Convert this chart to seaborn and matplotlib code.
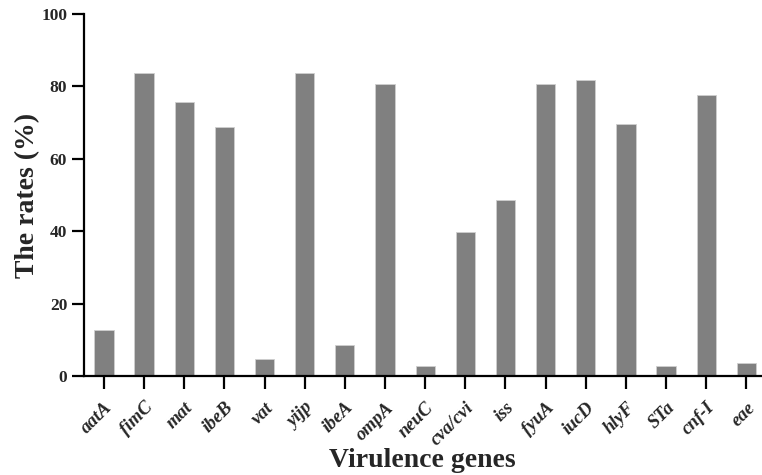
import matplotlib
matplotlib.use("Agg")
import matplotlib.pyplot as plt
import matplotlib.transforms as mtransforms
import pandas as pd
import seaborn as sns

genes = ["aatA", "fimC", "mat", "ibeB", "vat", "yijp", "ibeA", "ompA", "neuC",
         "cva/cvi", "iss", "fyuA", "iucD", "hlyF", "STa", "cnf-I", "eae"]
rates = [12.7, 83.7, 75.7, 68.7, 4.7, 83.7, 8.7, 80.7, 2.7,
         39.7, 48.7, 80.7, 81.7, 69.7, 2.7, 77.7, 3.7]
yticks = [0, 20, 40, 60, 80, 100]

sns.set_style("ticks")
plt.rcParams["font.family"] = ["Liberation Serif", "DejaVu Serif"]
plt.rcParams["font.weight"] = "bold"

df = pd.DataFrame({"gene": genes, "rate": rates})

fig = plt.figure(figsize=(7.62, 4.75), dpi=100)
ax = fig.add_axes([0.110, 0.2084, 0.889, 0.762])

sns.barplot(data=df, x="gene", y="rate", color="#808080", saturation=1,
            width=0.48, edgecolor="#cfcfcf", linewidth=0.6, ax=ax)

sns.despine(ax=ax)
for side in ["left", "bottom"]:
    ax.spines[side].set_linewidth(1.6)
    ax.spines[side].set_color("black")
ax.tick_params(axis="both", direction="out", length=9, width=1.6, color="black")
ax.tick_params(axis="y", pad=3)
ax.tick_params(axis="x", pad=4)

ax.set_ylim(0, 100)
ax.set_xlim(-0.5, 16.37)
ax.set_yticks(yticks)
ax.set_yticklabels([str(v) for v in yticks], fontsize=12.5, fontweight="bold")
ax.set_xticks(range(len(genes)))
ax.set_xticklabels(genes, rotation=45, ha="right", va="top",
                   rotation_mode="anchor", fontsize=13.5,
                   fontweight="bold", fontstyle="italic")
# nudge the rotated labels so their ends sit just right of the ticks
shift = mtransforms.ScaledTranslation(0.0, -0.05, fig.dpi_scale_trans)
for lab in ax.get_xticklabels():
    lab.set_transform(lab.get_transform() + shift)

ax.set_ylabel("The rates (%)", fontsize=20, fontweight="bold", labelpad=0.5)
ax.set_xlabel("Virulence genes", fontsize=20, fontweight="bold")
ax.xaxis.set_label_coords(0.5, -0.2)

fig.savefig("out.png", dpi=100)
